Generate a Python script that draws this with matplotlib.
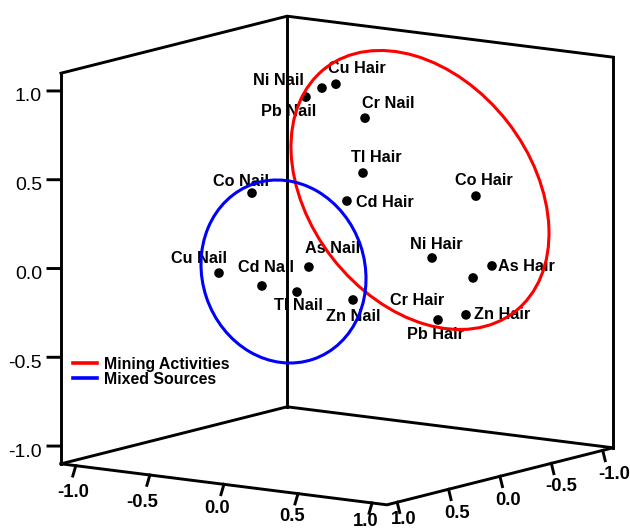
import numpy as np
import matplotlib
matplotlib.use("Agg")
import matplotlib.pyplot as plt
from matplotlib.patches import Ellipse
from matplotlib.lines import Line2D
from mpl_toolkits.mplot3d import proj3d

plt.rcParams['font.family'] = ['Liberation Sans', 'DejaVu Sans']

# ---------------- data (component loadings, estimated) ----------------
labels = ['Pb Nail', 'Ni Nail', 'Cu Hair', 'Cr Nail', 'Tl Hair', 'Co Hair',
          'Cd Hair', 'Co Nail', 'Ni Hair', 'As Hair', 'As Nail', 'Cu Nail',
          'Cd Nail', 'Tl Nail', 'Zn Nail', 'Cr Hair', 'Pb Hair', 'Zn Hair']
comp1 = [-0.141, -0.068, -0.005, 0.127, 0.118, 0.630, 0.045, -0.385, 0.431,
         0.703, -0.127, -0.535, -0.340, -0.181, 0.073, 0.617, 0.458, 0.585]
comp2 = [0.099, 0.048, 0.003, -0.090, -0.083, -0.444, -0.032, 0.272, -0.304,
         -0.495, 0.090, 0.377, 0.240, 0.128, -0.051, -0.435, -0.323, -0.412]
comp3 = [0.920, 0.971, 0.993, 0.802, 0.493, 0.364, 0.335, 0.379, 0.015,
         -0.029, -0.037, -0.072, -0.144, -0.178, -0.222, -0.097, -0.334, -0.305]

tick_values = [-1.0, -0.5, 0.0, 0.5, 1.0]
tick_labels = ['-1.0', '-0.5', '0.0', '0.5', '1.0']
legend_labels = ['Mining Activities', 'Mixed Sources']
legend_colors = ['red', 'blue']

# label offsets in pixels (right, down) relative to each point
label_offsets = [(-17.5, 13), (-44, -9), (21, -17), (23, -16), (13, -17),
                 (7.5, -17), (37.5, 0), (-11.5, -13), (4, -15), (34, -1),
                 (24, -20), (-20, -16), (4, -20), (1.5, 12), (0.5, 15),
                 (-55.5, 21), (-2.5, 13), (36.5, -2)]
# tick-label baseline offsets in pixels (right, down) for the two floor axes,
# in the order of tick_values
offA = [(-3, 31.5), (-8, 31.5), (-7, 29), (-6, 27.5), (-6, 23.5)]
offB = [(11.3, 28.5), (9.6, 28), (8, 28.5), (8.4, 28.5), (7, 21.5)]

LIM = 1.1
W, H = 630, 530

fig = plt.figure(figsize=(W / 100, H / 100), dpi=100)
ax = fig.add_axes([0, 0, 1, 1], projection='3d', proj_type='ortho',
                  computed_zorder=False)

# ---------------- frame (three back panes) ----------------
L = LIM
edges = [
    [(-L, L, -L), (-L, L, L)],                       # left vertical
    [(-L, -L, -L), (-L, -L, L)],                     # back vertical
    [(L, -L, -L), (L, -L, L)],                       # right vertical
    [(-L, L, L), (-L, -L, L), (L, -L, L)],           # top back edges
    [(-L, L, -L), (-L, -L, -L), (L, -L, -L)],        # bottom back edges
    [(-L, L, -L), (L, L, -L), (L, -L, -L)],          # bottom front edges
]
for e in edges:
    e = np.array(e)
    ax.plot(e[:, 0], e[:, 1], e[:, 2], color='black', lw=2.1, zorder=1,
            solid_joinstyle='miter', solid_capstyle='projecting')

# ticks
for v in tick_values:
    # vertical axis (left edge), pointing left on screen
    ax.plot([-L, -L - 0.059], [L, L + 0.0415], [v, v], color='black', lw=2.1, zorder=1)
    # first horizontal axis (left -> front)
    ax.plot([v, v - 0.0136], [L, L + 0.0096], [-L, -L - 0.058], color='black', lw=2.1, zorder=1)
    # second horizontal axis (front -> right)
    ax.plot([L, L + 0.0113], [v, v - 0.008], [-L, -L - 0.058], color='black', lw=2.1, zorder=1)

ax.scatter(comp1, comp2, comp3, s=48, c='black', depthshade=False, zorder=3,
           edgecolors='none')

ax.set_xlim(-L, L)
ax.set_ylim(L, -L)
ax.set_zlim(-L, L)
ax.set_box_aspect((399, 392, 397))
ax.view_init(elev=10.26, azim=-54.77)
ax.set_axis_off()

fig.canvas.draw()


def proj2d(pts):
    pts = np.asarray(pts, float)
    xs, ys, _ = proj3d.proj_transform(pts[:, 0], pts[:, 1], pts[:, 2], ax.get_proj())
    return np.column_stack([xs, ys])


# fit the projected box to the target frame in pixels
c = ax.transData.transform(proj2d([(-L, L, -L), (L, -L, -L), (0, 0, 0)]))
scale = (613 - 61) / (c[1, 0] - c[0, 0])
bb = ax.get_position()
ax_px = bb.width * W
fx = (c[2, 0] - bb.x0 * W) / ax_px
fy = (c[2, 1] - bb.y0 * H) / ax_px
S = ax_px * scale
left = 337 - fx * S
bottom = (H - 260.5) - fy * S
ax.set_position([left / W, bottom / H, S / W, S / H])
fig.canvas.draw()

# ---------------- point labels ----------------
pts2 = proj2d(np.column_stack([comp1, comp2, comp3]))
lab_fs = 11.7
cap = 0.716 * lab_fs * 100 / 72
for (px, py), lab, (dx, dy) in zip(pts2, labels, label_offsets):
    ax.annotate(lab, xy=(px, py), xycoords='data', xytext=(dx, -(dy + cap / 2)),
                textcoords='offset pixels', ha='center', va='baseline',
                fontsize=lab_fs, fontweight='bold', zorder=4)

# ---------------- tick labels ----------------
vert = proj2d([(-L, L, v) for v in tick_values])
axA = proj2d([(v, L, -L) for v in tick_values])
axB = proj2d([(L, v, -L) for v in tick_values])
for i, t in enumerate(tick_labels):
    ax.annotate(t, xy=vert[i], xytext=(-19, -10.5), textcoords='offset pixels',
                ha='right', va='baseline', fontsize=14)
    ax.annotate(t, xy=axA[i], xytext=(offA[i][0], -offA[i][1]),
                textcoords='offset pixels', ha='center', va='baseline',
                fontsize=13.3, fontweight='bold')
    ax.annotate(t, xy=axB[i], xytext=(offB[i][0], -offB[i][1]),
                textcoords='offset pixels', ha='center', va='baseline',
                fontsize=13.3, fontweight='bold')

# ---------------- overlay: grouping ellipses and legend ----------------
ov = fig.add_axes([0, 0, 1, 1], facecolor='none')
ov.set_xlim(0, W)
ov.set_ylim(H, 0)
ov.axis('off')
ov.add_patch(Ellipse((420, 190), 308.6, 221.8, angle=52.1, fill=False,
                     edgecolor=legend_colors[0], lw=2.2))
ov.add_patch(Ellipse((283.5, 271.5), 185.2, 162.6, angle=71.4, fill=False,
                     edgecolor=legend_colors[1], lw=2.2))

handles = [Line2D([], [], color=col, lw=2.6) for col in legend_colors]
ov.legend(handles, legend_labels, loc='upper left', bbox_to_anchor=(73, 357),
          bbox_transform=ov.transData, frameon=False, borderpad=0,
          borderaxespad=0, handlelength=1.5, handletextpad=0.45,
          labelspacing=0.0, prop={'weight': 'bold', 'size': 11.4})

fig.savefig('out.png', dpi=100)
